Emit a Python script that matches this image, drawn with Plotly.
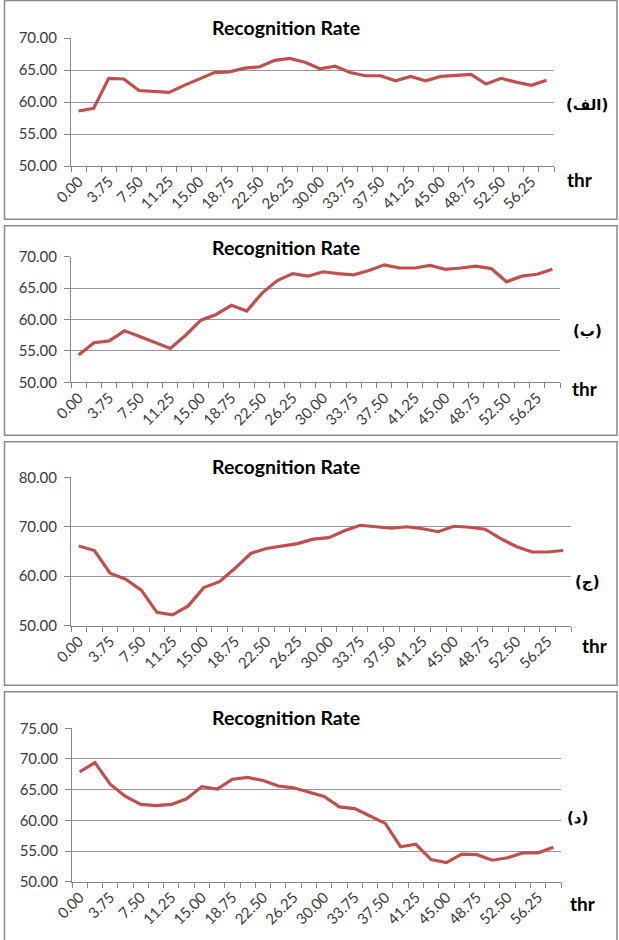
import plotly.graph_objects as go

W, H = 619, 940

thr = [i * 1.875 for i in range(32)]

rate_alef = [58.6, 59.0, 63.7, 63.6, 61.8, 61.6, 61.5, 62.6, 63.6, 64.6, 64.7, 65.3,
             65.5, 66.5, 66.8, 66.2, 65.2, 65.6, 64.6, 64.1, 64.1, 63.3, 64.0, 63.3,
             64.0, 64.2, 64.3, 62.8, 63.7, 63.1, 62.6, 63.4]
rate_be = [54.35, 56.3, 56.6, 58.2, 57.3, 56.4, 55.4, 57.5, 59.9, 60.8, 62.25, 61.35,
           64.2, 66.2, 67.3, 66.9, 67.6, 67.3, 67.1, 67.8, 68.7, 68.2, 68.2, 68.6,
           68.0, 68.2, 68.5, 68.1, 66.0, 66.9, 67.2, 68.0]
rate_jim = [66.1, 65.2, 60.6, 59.4, 57.2, 52.7, 52.2, 54.0, 57.7, 58.9, 61.6, 64.6,
            65.6, 66.1, 66.6, 67.5, 67.8, 69.2, 70.3, 70.0, 69.7, 70.0, 69.6, 69.0,
            70.1, 69.9, 69.5, 67.6, 66.0, 64.9, 64.9, 65.2]
rate_dal = [67.9, 69.4, 65.9, 63.9, 62.6, 62.4, 62.6, 63.5, 65.5, 65.1, 66.7, 67.0,
            66.5, 65.6, 65.3, 64.6, 63.9, 62.2, 61.9, 60.7, 59.5, 55.7, 56.1, 53.6,
            53.1, 54.5, 54.4, 53.5, 53.9, 54.7, 54.7, 55.6]

series = [rate_alef, rate_be, rate_jim, rate_dal]
panel_labels = ["(الف)", "(ب)", "(ج)", "(د)"]
y_ranges = [(50, 70, 5), (50, 70, 5), (50, 80, 10), (50, 75, 5)]
chart_title = "Recognition Rate"
x_title = "thr"

# layout in pixels (top-down)
plot_px = [  # x0, x1, ytop, ybottom
    (71, 554, 38.0, 166.0),
    (71, 560, 256.7, 382.3),
    (71, 571, 477.3, 625.7),
    (72, 561, 728.3, 881.7),
]
boxes_px = [(4.5, 0.5, 617, 219.3), (4.5, 225.7, 617, 435.3),
            (4.5, 441.7, 617, 685.3), (4.5, 691.7, 617, 945)]
title_px = [(286, 27), (286, 247), (286, 466), (286, 717)]
thr_px = [(580, 180), (585, 388), (595, 645), (583, 903)]
lab_px = [(587, 105), (587, 331), (587, 582), (577, 818)]

def px(x):
    return x / W

def py(y):
    return 1 - y / H

fig = go.Figure()
tick_font = dict(family="Lato", size=15, color="#3a3a3a")

for k in range(4):
    ax = "" if k == 0 else str(k + 1)
    x0, x1, yt, yb = plot_px[k]
    lo, hi, step = y_ranges[k]
    fig.add_trace(go.Scatter(
        x=thr, y=series[k], mode="lines",
        line=dict(color="#C0504D", width=3.2),
        xaxis="x" + ax, yaxis="y" + ax, showlegend=False, hoverinfo="skip"))
    fig.layout["xaxis" + ax] = dict(
        domain=[px(x0), px(x1)], anchor="y" + ax, automargin=False,
        range=[-0.9375, 59.0625], tickmode="linear", tick0=0, dtick=3.75,
        tickformat=".2f", tickangle=-45, tickfont=tick_font,
        showgrid=False, zeroline=False, showline=True, linecolor="#868686",
        linewidth=1, ticks="", ticklen=0,
        minor=dict(tickmode="linear", tick0=-0.9375, dtick=1.875, ticks="outside",
                   ticklen=5, tickcolor="#868686", showgrid=False),
        fixedrange=True)
    fig.layout["yaxis" + ax] = dict(
        domain=[py(yb), py(yt)], anchor="x" + ax, automargin=False,
        range=[lo, hi], tickmode="linear", tick0=lo, dtick=step,
        tickformat=".2f", tickfont=tick_font,
        showgrid=True, gridcolor="#979797", gridwidth=1,
        zeroline=False, showline=True, linecolor="#868686", linewidth=1,
        ticks="outside", ticklen=6, tickcolor="#868686", ticklabelstandoff=4,
        fixedrange=True)
    bx0, by0, bx1, by1 = boxes_px[k]
    fig.add_shape(type="rect", xref="paper", yref="paper",
                  x0=px(bx0), x1=px(bx1), y0=py(by1), y1=py(by0),
                  line=dict(color="#8a8a8a", width=1.5), layer="below")
    tx, ty = title_px[k]
    fig.add_annotation(text="<b>" + chart_title + "</b>", xref="paper", yref="paper",
                       x=px(tx), y=py(ty), xanchor="center", yanchor="middle",
                       showarrow=False, font=dict(family="Lato", size=19.5, color="#000000"))
    hx, hy = thr_px[k]
    fig.add_annotation(text="<b>" + x_title + "</b>", xref="paper", yref="paper",
                       x=px(hx), y=py(hy), xanchor="center", yanchor="middle",
                       showarrow=False, font=dict(family="Lato", size=19, color="#000000"))
    lx, ly = lab_px[k]
    fig.add_annotation(text="<b>" + panel_labels[k] + "</b>", xref="paper", yref="paper",
                       x=px(lx), y=py(ly), xanchor="center", yanchor="middle",
                       showarrow=False, font=dict(family="DejaVu Sans", size=15, color="#000000"))

fig.update_layout(width=W, height=H, margin=dict(l=0, r=0, t=0, b=0, autoexpand=False),
                  paper_bgcolor="white", plot_bgcolor="white")
fig.write_html("out.html", config={"displayModeBar": False},
               post_script="document.body.style.margin='0';document.body.style.overflow='hidden';")
